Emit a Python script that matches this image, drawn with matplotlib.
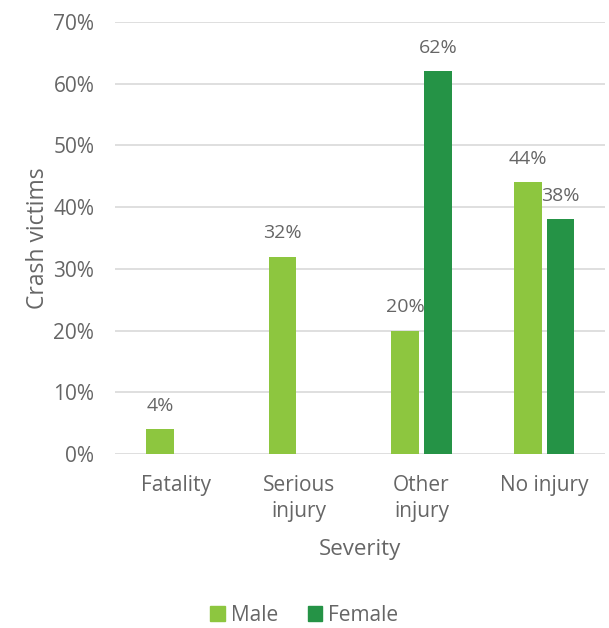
import matplotlib
matplotlib.use("Agg")
import matplotlib.pyplot as plt
import numpy as np
from matplotlib.patches import Patch

plt.rcParams['font.family'] = ['Open Sans', 'DejaVu Sans']

categories = ["Fatality", "Serious\ninjury", "Other\ninjury", "No injury"]
male = [4, 32, 20, 44]
female = [0, 0, 62, 38]
male_labels = ["4%", "32%", "20%", "44%"]
female_labels = [None, None, "62%", "38%"]
yticks = [0, 10, 20, 30, 40, 50, 60, 70]

male_color = "#8DC63F"
female_color = "#259346"
text_color = "#666666"

fig = plt.figure(figsize=(6.09, 6.28), dpi=100)
ax = fig.add_axes([0.189, 0.277, 0.805, 0.688])

x = np.arange(len(categories))
w = 0.228
gap = 0.04
off = (w + gap) / 2

ax.bar(x - off, male, width=w, color=male_color, zorder=3, label="Male")
ax.bar(x + off, female, width=w, color=female_color, zorder=3, label="Female")

for xi, v, lab in zip(x - off, male, male_labels):
    if lab:
        ax.text(xi, v + 2.3, lab, ha="center", va="bottom", fontsize=14, color=text_color)
for xi, v, lab in zip(x + off, female, female_labels):
    if lab:
        ax.text(xi, v + 2.3, lab, ha="center", va="bottom", fontsize=14, color=text_color)

ax.set_ylim(0, 70)
ax.set_xlim(-0.5, 3.5)
ax.set_yticks(yticks)
ax.set_yticklabels([f"{t}%" for t in yticks])
ax.set_xticks(x)
ax.set_xticklabels(categories, linespacing=1.35)
ax.tick_params(axis="y", length=0, colors=text_color, labelsize=15, pad=15)
ax.tick_params(axis="x", length=0, colors=text_color, labelsize=15, pad=15)

ax.yaxis.grid(True, color="#D9D9D9", linewidth=1.2, zorder=0)
for s in ax.spines.values():
    s.set_visible(False)

ax.set_ylabel("Crash victims", fontsize=16.5, color=text_color, labelpad=2)
ax.set_xlabel("Severity", fontsize=16, color=text_color, labelpad=12)

handles = [Patch(color=male_color, label="Male"), Patch(color=female_color, label="Female")]
fig.legend(handles=handles, loc="center", bbox_to_anchor=(0.5, 0.02), ncol=2, frameon=False,
           fontsize=15, labelcolor=text_color, handlelength=0.7, handleheight=0.7,
           handletextpad=0.3, columnspacing=1.4, borderpad=0.1)

fig.savefig("out.png", dpi=100)
